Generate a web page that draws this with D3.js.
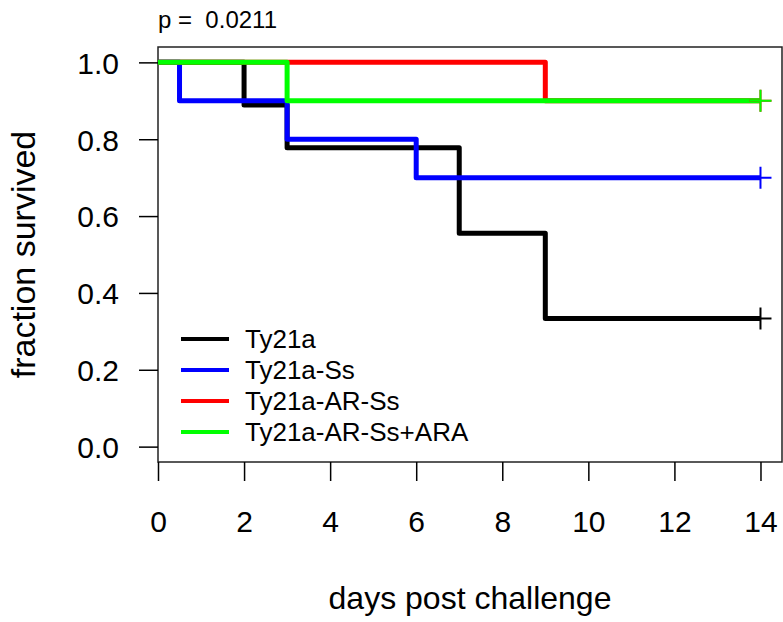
<!DOCTYPE html>
<html>
<head>
<meta charset="utf-8">
<script src="https://cdn.jsdelivr.net/npm/d3@7"></script>
<style>
  body { margin: 0; background: #fff; }
  svg { font-family: Arial, "Liberation Sans", sans-serif; display: block; }
</style>
</head>
<body>
<script>
// Kaplan-Meier curves: step times and survival fractions per group
var groups = ["Ty21a", "Ty21a-Ss", "Ty21a-AR-Ss", "Ty21a-AR-Ss+ARA"];
var colors = ["#000000", "#0000ff", "#ff0000", "#00ff00"];

var timesTy21a = [0, 2, 3, 7, 9, 14];
var survTy21a = [1, 8/9, 7/9, 5/9, 3/9, 3/9];

var timesSs = [0, 0.5, 3, 6, 14];
var survSs = [1, 0.9, 0.8, 0.7, 0.7];

var timesARSs = [0, 9, 14];
var survARSs = [1, 0.9, 0.9];

var timesARA = [0, 3, 14];
var survARA = [1, 0.9, 0.9];

var xTicks = [0, 2, 4, 6, 8, 10, 12, 14];
var yTicks = [0, 0.2, 0.4, 0.6, 0.8, 1.0];
var pText = "p =  0.0211";

var series = [
  {times: timesTy21a, surv: survTy21a},
  {times: timesSs, surv: survSs},
  {times: timesARSs, surv: survARSs},
  {times: timesARA, surv: survARA}
];

var W = 783, H = 622;
var margin = {top: 47, right: 1, bottom: 160, left: 158};
var width = W - margin.left - margin.right,
    height = H - margin.top - margin.bottom;

var svg = d3.select("body").append("svg")
  .attr("width", W)
  .attr("height", H);

var g = svg.append("g")
  .attr("transform", "translate(" + margin.left + "," + margin.top + ")");

var x = d3.scaleLinear().domain([0, 14.5]).range([0, width]);
var y = d3.scaleLinear().domain([-0.04, 1.04]).range([height, 0]);

// plot box
g.append("rect")
  .attr("x", 0).attr("y", 0)
  .attr("width", width).attr("height", height)
  .attr("fill", "none")
  .attr("stroke", "#222")
  .attr("stroke-width", 1.5);

// curves, drawn in legend order (green ends up on top)
var line = d3.line()
  .x(function(d) { return x(d[0]); })
  .y(function(d) { return y(d[1]); })
  .curve(d3.curveStepAfter);

series.forEach(function(s, i) {
  var pts = s.times.map(function(t, j) { return [t, s.surv[j]]; });
  g.append("path")
    .datum(pts)
    .attr("d", line)
    .attr("fill", "none")
    .attr("stroke", colors[i])
    .attr("stroke-width", 5)
    .attr("stroke-linejoin", "round");
});

// censor marks at the last time point
series.forEach(function(s, i) {
  var t = s.times[s.times.length - 1];
  var v = s.surv[s.surv.length - 1];
  var cx = x(t), cy = y(v);
  g.append("path")
    .attr("d", "M" + (cx - 11) + "," + cy + "H" + (cx + 11) + "M" + cx + "," + (cy - 11) + "V" + (cy + 11))
    .attr("stroke", colors[i])
    .attr("stroke-width", 2)
    .attr("fill", "none");
});

// axes
var xAxis = d3.axisBottom(x)
  .tickValues(xTicks)
  .tickSize(19)
  .tickPadding(30)
  .tickFormat(d3.format("d"));

var yAxis = d3.axisLeft(y)
  .tickValues(yTicks)
  .tickSize(19)
  .tickPadding(20)
  .tickFormat(d3.format(".1f"));

var gx = g.append("g")
  .attr("transform", "translate(0," + height + ")")
  .call(xAxis);
gx.select(".domain").remove();
gx.selectAll("line").attr("stroke", "#000").attr("stroke-width", 1.5);
gx.selectAll("text").attr("font-size", 30).attr("fill", "#000");

var gy = g.append("g").call(yAxis);
gy.select(".domain").remove();
gy.selectAll("line").attr("stroke", "#000").attr("stroke-width", 1.5);
gy.selectAll("text").attr("font-size", 30).attr("fill", "#000").attr("dy", "0.36em");

// axis titles
svg.append("text")
  .attr("x", margin.left + width / 2)
  .attr("y", 609)
  .attr("text-anchor", "middle")
  .attr("font-size", 32)
  .text("days post challenge");

svg.append("text")
  .attr("transform", "translate(35," + (margin.top + height / 2) + ") rotate(-90)")
  .attr("text-anchor", "middle")
  .attr("font-size", 34)
  .text("fraction survived");

// p value
svg.append("text")
  .attr("x", margin.left)
  .attr("y", 28)
  .attr("font-size", 24)
  .style("white-space", "pre")
  .text(pText);

// legend
var legend = g.append("g").attr("transform", "translate(23," + y(0.28) + ")");
groups.forEach(function(name, i) {
  var ly = i * 31;
  legend.append("line")
    .attr("x1", 0).attr("x2", 48)
    .attr("y1", ly).attr("y2", ly)
    .attr("stroke", colors[i])
    .attr("stroke-width", 4);
  legend.append("text")
    .attr("x", 64)
    .attr("y", ly)
    .attr("dy", "0.36em")
    .attr("font-size", 26)
    .text(name);
});
</script>
</body>
</html>
